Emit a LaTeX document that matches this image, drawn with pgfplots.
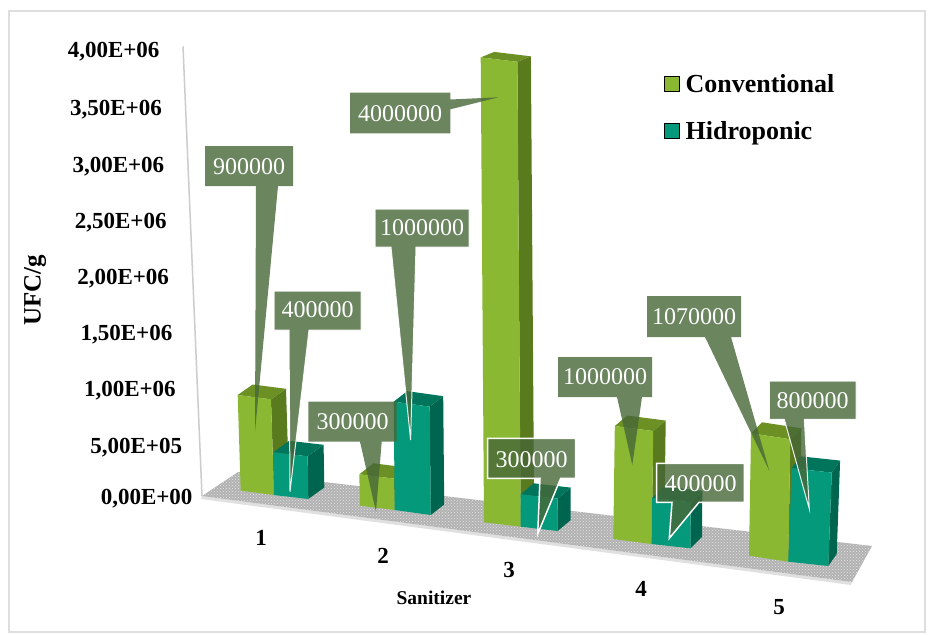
\documentclass[border=0pt]{standalone}
\usepackage{fontspec}
\setmainfont{Liberation Serif}
\usepackage{pgfplots}
\usetikzlibrary{patterns}
\pgfplotsset{compat=1.18}
\definecolor{GF}{HTML}{8AB833}
\definecolor{GT}{HTML}{6C9023}
\definecolor{GS}{HTML}{5A7A1E}
\definecolor{BF}{HTML}{03997A}
\definecolor{BT}{HTML}{00755B}
\definecolor{BS}{HTML}{00654F}
\definecolor{LB}{HTML}{476738}
\def\f{1}
% prefix, front-left base x y, front-right base x y, depth dx dy, top x offset, value
\newcommand{\tdbar}[9]{%
 \pgfmathsetmacro\xa{#2+#8}\pgfmathsetmacro\xb{#4+#8}%
 \pgfmathsetmacro\xc{#4+#6}\pgfmathsetmacro\yc{#5+#7}%
 \pgfmathsetmacro\xd{#4+#6+#8}\pgfmathsetmacro\xe{#2+#6+#8}\pgfmathsetmacro\ye{#3+#7}%
 \addplot3[fill=#1S,draw=none,no marks,forget plot,z filter/.expression={z/1000000*\f}] coordinates {(#4,#5,0)(\xc,\yc,0)(\xd,\yc,#9)(\xb,#5,#9)} -- cycle;
 \addplot3[fill=#1T,draw=none,no marks,forget plot,z filter/.expression={z/1000000*\f}] coordinates {(\xa,#3,#9)(\xb,#5,#9)(\xd,\yc,#9)(\xe,\ye,#9)} -- cycle;
 \addplot3[fill=#1F,draw=none,no marks,forget plot,z filter/.expression={z/1000000*\f}] coordinates {(#2,#3,0)(#4,#5,0)(\xb,#5,#9)(\xa,#3,#9)} -- cycle;
}
\begin{document}
\begin{tikzpicture}[x=1pt,y=-1pt]
\useasboundingbox (0,0) rectangle (936,634);
\fill[white] (0,0) rectangle (936,634);
\draw[color=black!13,line width=2pt] (9,11) rectangle (925,632);
\begin{axis}[
  at={(202pt,-410pt)},anchor=origin,
  x={(1pt,0pt)},y={(0pt,-1pt)},z={(-4.75pt,112.4pt)},
  xmin=202,xmax=872,ymin=410,ymax=496,zmin=0,zmax=4,
  clip=false,
  axis x line=none,axis y line=none,axis z line=left,
  axis line style={draw=black!20,line width=1.5pt,-},
  ztick={0,0.5,1,1.5,2,2.5,3,3.5,4},
  zticklabels={{\raisebox{13pt}{0,00E+00}\kern-14pt},{5,00E+05\kern-6pt},{1,00E+06\kern-2pt},{1,50E+06\kern-1pt},{2,00E+06},{2,50E+06},{3,00E+06},{3,50E+06},{\raisebox{7.5pt}{4,00E+06}}},
  major tick length=0pt,
  zticklabel style={anchor=east,font=\bfseries\fontsize{23}{23}\selectfont,yshift=-7.5pt,xshift=-20pt},
  legend image code/.code={\fill[#1] (0pt,-7.5pt) rectangle (15pt,7.5pt);},
  legend cell align=left,
  legend style={at={(axis cs:664,72,0)},anchor=north west,draw=none,fill=none,font=\bfseries\fontsize{26}{26}\selectfont,row sep=23.5pt,column sep=4pt,inner sep=0pt},
]
\addplot3[fill=black!12,draw=none,no marks,forget plot] coordinates {(202,496,0)(852,582,0)(851,585,0)(201,499,0)} -- cycle;
\addplot3[fill=black!30,draw=none,no marks,forget plot] coordinates {(202,496,0)(238,472,0)(872,546,0)(852,582,0)} -- cycle;
\addplot3[pattern=crosshatch dots,pattern color=black!10,draw=none,no marks,forget plot] coordinates {(202,496,0)(238,472,0)(872,546,0)(852,582,0)} -- cycle;
\addlegendimage{fill=GF}\addlegendentry{Conventional}
\addlegendimage{fill=BF}\addlegendentry{Hidroponic}
\def\f{0.946}\tdbar{G}{240.7}{490.7}{274}{495}{15}{-10.5}{1.04}{900000}
\def\f{0.950}\tdbar{B}{274}{495}{308.3}{499}{16}{-11.5}{1.1}{400000}
\def\f{0.931}\tdbar{G}{360}{505.7}{394.7}{510}{14}{-11}{0.63}{300000}
\def\f{0.964}\tdbar{B}{394.7}{510}{430.7}{515}{13.5}{-10.5}{3.58}{1000000}
\def\f{1.034}\tdbar{G}{484}{522.3}{520.7}{526.7}{13.5}{-5.5}{16.35}{4000000}
\def\f{0.961}\tdbar{B}{520.7}{526.7}{557.7}{531}{13}{-11}{1.37}{300000}
\def\f{1.005}\tdbar{G}{613.3}{539}{651.7}{544}{12.5}{-10.5}{6.28}{1000000}
\def\f{1.023}\tdbar{B}{651.7}{544}{690.5}{548.3}{11.5}{-11.5}{2.24}{400000}
\def\f{1.018}\tdbar{G}{749}{555.7}{788.3}{561.7}{11}{-11}{7.17}{1070000}
\def\f{1.039}\tdbar{B}{788.3}{561.7}{828.3}{566}{8.4}{-12}{7.35}{800000}
\end{axis}
\tikzset{lbl/.style={text=white,font=\fontsize{24}{24}\selectfont,inner sep=0pt},
 cb/.style={fill=LB,fill opacity=0.8,draw=none},
 cw/.style={fill=LB,fill opacity=0.8,draw=white,draw opacity=1,line width=1.5pt},
 ct/.style={fill=LB,fill opacity=0.8,draw=white,draw opacity=0.9,line width=1pt}}
\path[cb] (205,146)--(293,146)--(293,186)--(278,186)--(255,431.7)--(256,186)--(205,186)--cycle;
\node[lbl] at (249,167) {900000};
\path[ct] (274,291)--(361,291)--(361,330)--(309,330)--(290,491.7)--(289,330)--(274,330)--cycle;
\node[lbl] at (317.5,310) {400000};
\path[ct] (375,209)--(469,209)--(469,247)--(416,247)--(410.6,440)--(391,247)--(375,247)--cycle;
\node[lbl] at (422,228) {1000000};
\path[cb] (308.3,401.7)--(396.7,401.7)--(396.7,441.7)--(381.7,441.7)--(376,511.7)--(360,441.7)--(308.3,441.7)--cycle;
\node[lbl] at (352.5,422) {300000};
\path[cb] (350,92.7)--(450.3,92.7)--(450.3,99.5)--(498.3,97.3)--(450.3,109.3)--(450.3,133.3)--(350,133.3)--cycle;
\node[lbl] at (400,113.5) {4000000};
\path[cw] (487.7,438.3)--(575.7,438.3)--(575.7,478.3)--(560.7,478.3)--(537.7,534)--(540,478.3)--(487.7,478.3)--cycle;
\node[lbl] at (531.7,460) {300000};
\path[cb] (558,357)--(652,357)--(652,397)--(642,397)--(632.3,465)--(617,397)--(558,397)--cycle;
\node[lbl] at (605,377) {1000000};
\path[cw] (656.7,463.3)--(744.3,463.3)--(744.3,502.3)--(699,502.3)--(669.3,538.3)--(672,502.3)--(656.7,502.3)--cycle;
\node[lbl] at (700.5,484) {400000};
\path[cb] (647,296)--(741,296)--(741,337)--(731,337)--(769.3,470.7)--(705,337)--(647,337)--cycle;
\node[lbl] at (694,317) {1070000};
\path[ct] (769.3,381)--(856,381)--(856,419.3)--(804.3,419.3)--(809.3,509)--(784.3,419.3)--(769.3,419.3)--cycle;
\node[lbl] at (812.5,401) {800000};
\tikzset{ax/.style={font=\bfseries\fontsize{23}{23}\selectfont,inner sep=0pt}}
\node[ax] at (261,538) {1};
\node[ax] at (383,556) {2};
\node[ax] at (509,570) {3};
\node[ax] at (641,589) {4};
\node[ax] at (779,607) {5};
\node[font=\bfseries\fontsize{19.5}{19.5}\selectfont,inner sep=0pt] at (434,598) {Sanitizer};
\node[font=\bfseries\fontsize{25}{25}\selectfont,inner sep=0pt,rotate=90] at (35,290) {UFC/g};
\end{tikzpicture}
\end{document}
